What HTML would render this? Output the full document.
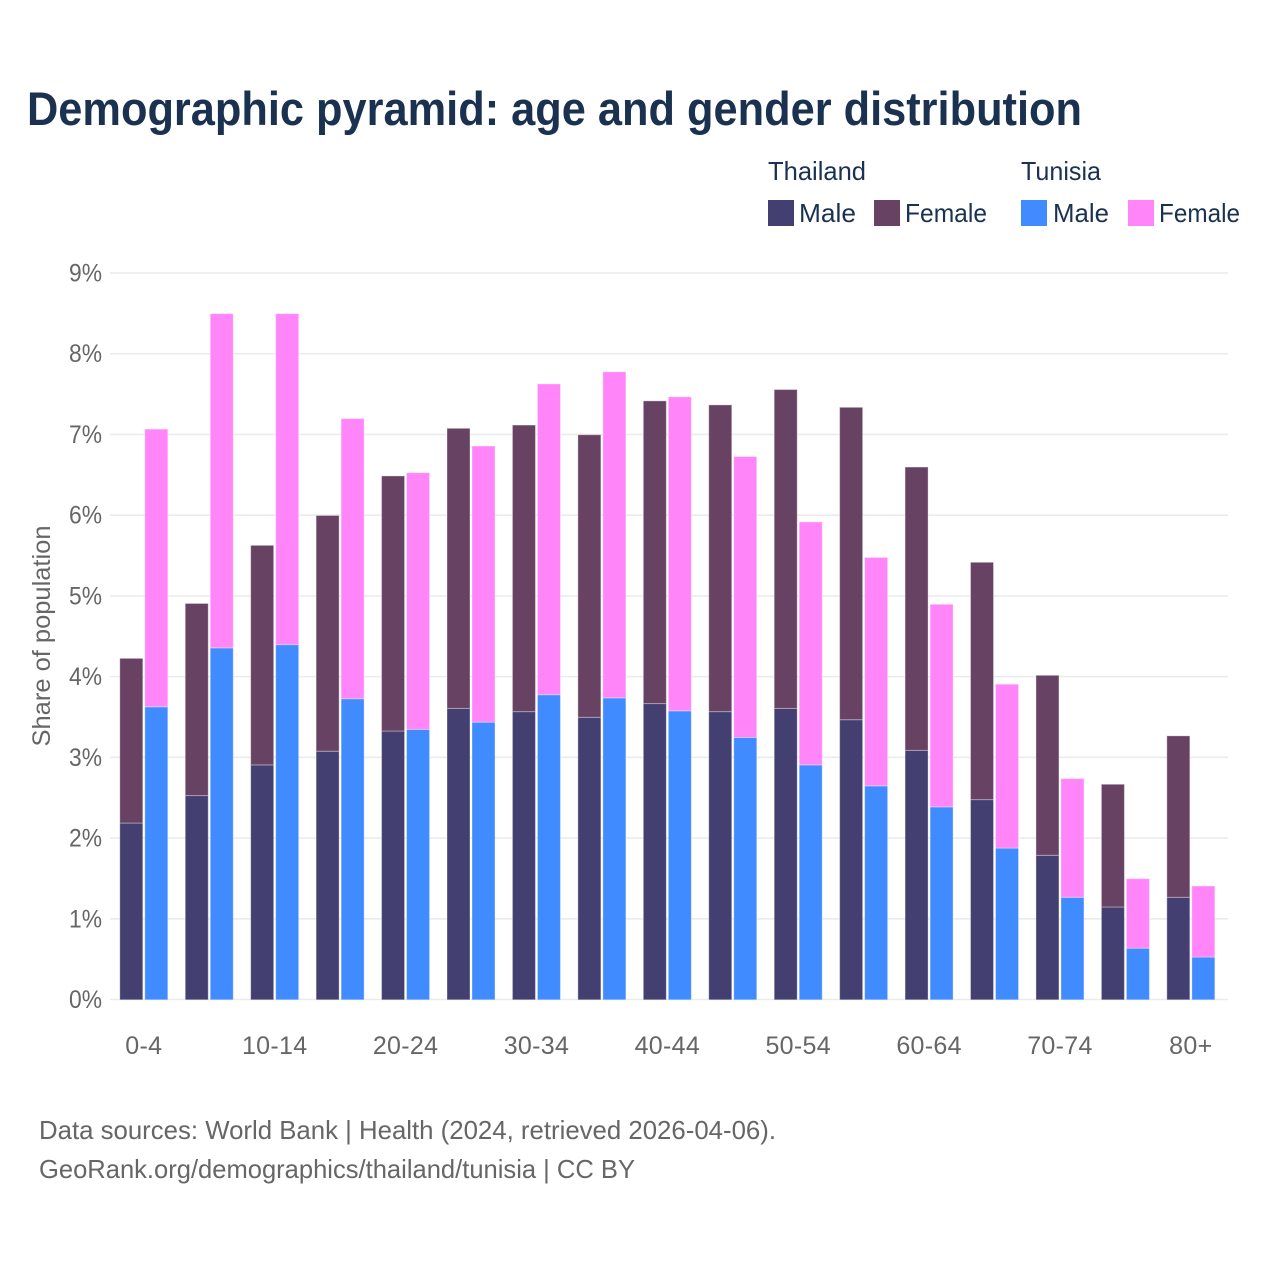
<!DOCTYPE html>
<html lang="en">
<head>
<meta charset="utf-8">
<title>Demographic pyramid: age and gender distribution</title>
<style>
  html, body { margin: 0; padding: 0; background: #fff; }
  svg { display: block; font-family: "Liberation Sans", sans-serif; }
</style>
</head>
<body>
<svg id="chart" xmlns="http://www.w3.org/2000/svg" width="1280" height="1280" viewBox="0 0 1280 1280">
  <rect width="1280" height="1280" fill="#ffffff"/>
  <text x="27" y="125" font-size="47" font-weight="700" fill="#1a3250" textLength="1055" lengthAdjust="spacingAndGlyphs">Demographic pyramid: age and gender distribution</text>

  <g font-size="26" fill="#1a3250">
    <text x="768" y="180" textLength="98" lengthAdjust="spacingAndGlyphs">Thailand</text>
    <text x="1021" y="180" textLength="80" lengthAdjust="spacingAndGlyphs">Tunisia</text>
    <rect x="768" y="200" width="26" height="26" fill="#433f70"/>
    <text x="799" y="222" textLength="57" lengthAdjust="spacingAndGlyphs">Male</text>
    <rect x="874" y="200" width="26" height="26" fill="#674263"/>
    <text x="905" y="222" textLength="82" lengthAdjust="spacingAndGlyphs">Female</text>
    <rect x="1021" y="200" width="26" height="26" fill="#408bff"/>
    <text x="1053" y="222" textLength="56" lengthAdjust="spacingAndGlyphs">Male</text>
    <rect x="1128" y="200" width="26" height="26" fill="#ff85f9"/>
    <text x="1159" y="222" textLength="81" lengthAdjust="spacingAndGlyphs">Female</text>
  </g>

  <g id="grid"></g>
  <g id="yticks"></g>
  <g id="bars"></g>
  <g id="xticks"></g>

  <text transform="translate(50,636) rotate(-90)" text-anchor="middle" font-size="25" fill="#666666" textLength="221" lengthAdjust="spacingAndGlyphs">Share of population</text>

  <text x="39" y="1139" font-size="26" fill="#666666" textLength="737" lengthAdjust="spacingAndGlyphs">Data sources: World Bank | Health (2024, retrieved 2026-04-06).</text>
  <text x="39" y="1178" font-size="26" fill="#666666" textLength="596" lengthAdjust="spacingAndGlyphs">GeoRank.org/demographics/thailand/tunisia | CC BY</text>
</svg>
<script>
const ageGroups = ["0-4","5-9","10-14","15-19","20-24","25-29","30-34","35-39","40-44","45-49","50-54","55-59","60-64","65-69","70-74","75-79","80+"];
const visibleAgeLabels = ["0-4","10-14","20-24","30-34","40-44","50-54","60-64","70-74","80+"];
const thailandMale = [2.19,2.53,2.91,3.08,3.33,3.61,3.57,3.50,3.67,3.57,3.61,3.47,3.09,2.48,1.79,1.15,1.27];
const thailandFemale = [2.04,2.38,2.72,2.92,3.16,3.47,3.55,3.50,3.75,3.80,3.95,3.87,3.51,2.94,2.23,1.52,2.00];
const tunisiaMale = [3.63,4.36,4.40,3.73,3.35,3.44,3.78,3.74,3.58,3.25,2.91,2.65,2.39,1.88,1.27,0.64,0.53];
const tunisiaFemale = [3.44,4.14,4.10,3.47,3.18,3.42,3.85,4.04,3.89,3.48,3.01,2.83,2.51,2.03,1.47,0.86,0.88];
const yTickValues = [0,1,2,3,4,5,6,7,8,9];

const NS = "http://www.w3.org/2000/svg";
function yScale(v) { return 999.5 - v * 80.72; }
function xCenter(i) { return 143.8 + i * 65.44; }

const grid = document.getElementById("grid");
const yticks = document.getElementById("yticks");
const bars = document.getElementById("bars");
const xticks = document.getElementById("xticks");

yTickValues.forEach(function (t) {
  const line = document.createElementNS(NS, "line");
  
  
  line.setAttribute("x1", 110);
  line.setAttribute("x2", 1228);
  line.setAttribute("y1", yScale(t));
  line.setAttribute("y2", yScale(t));
  line.setAttribute("stroke", "#ebebeb");
  line.setAttribute("stroke-width", 1.6);
  grid.appendChild(line);

  const label = document.createElementNS(NS, "text");
  
  
  label.setAttribute("x", 69);
  label.setAttribute("y", yScale(t) + 8.5);
  label.setAttribute("font-size", 25);
  label.setAttribute("fill", "#666666");
  label.setAttribute("textLength", 33);
  label.setAttribute("lengthAdjust", "spacingAndGlyphs");
  label.textContent = t + "%";
  yticks.appendChild(label);
});

function drawSegment(x, base, value, color) {
  const top = yScale(base + value);
  const rect = document.createElementNS(NS, "rect");
  
  
  rect.setAttribute("x", x - 11.5);
  rect.setAttribute("y", top + 0.3);
  rect.setAttribute("width", 23);
  rect.setAttribute("height", yScale(base) - top);
  rect.setAttribute("fill", color);
  rect.setAttribute("stroke", "#ffffff");
  rect.setAttribute("stroke-opacity", 0.35);
  rect.setAttribute("stroke-width", 1);
  bars.appendChild(rect);
}

ageGroups.forEach(function (g, i) {
  const c = xCenter(i);
  drawSegment(c - 12.5, 0, thailandMale[i], "#433f70");
  drawSegment(c - 12.5, thailandMale[i], thailandFemale[i], "#674263");
  drawSegment(c + 12.5, 0, tunisiaMale[i], "#408bff");
  drawSegment(c + 12.5, tunisiaMale[i], tunisiaFemale[i], "#ff85f9");

  if (visibleAgeLabels.indexOf(g) !== -1) {
    const label = document.createElementNS(NS, "text");
    
    
    label.setAttribute("x", c);
    label.setAttribute("y", 1054);
    label.setAttribute("text-anchor", "middle");
    label.setAttribute("font-size", 25);
    label.setAttribute("letter-spacing", "0.3");
    label.setAttribute("fill", "#666666");
    label.textContent = g;
    xticks.appendChild(label);
  }
});
</script>
</body>
</html>
